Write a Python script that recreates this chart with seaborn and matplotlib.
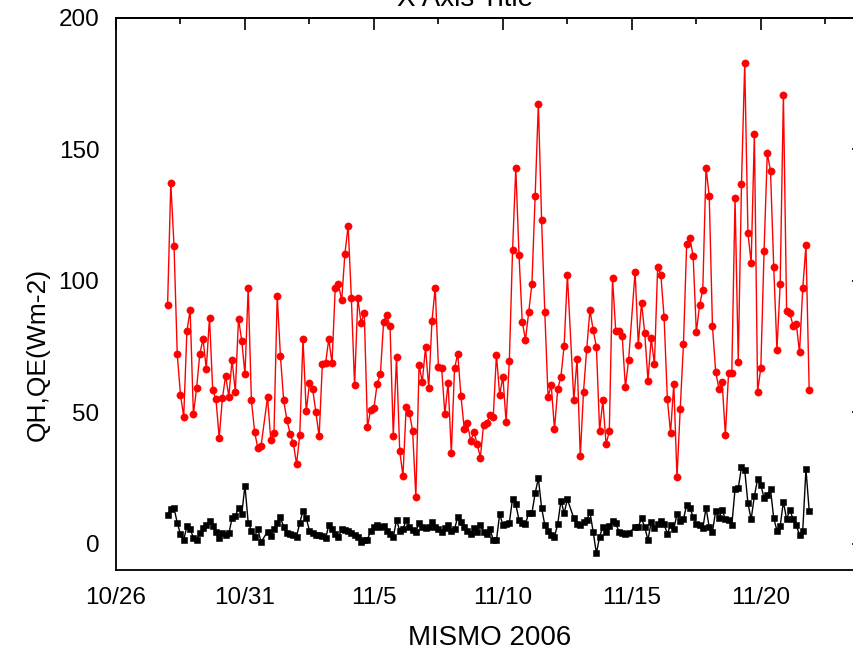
import numpy as np
import pandas as pd
import matplotlib
matplotlib.use("Agg")
import matplotlib.pyplot as plt
import matplotlib.dates as mdates
from matplotlib.ticker import FixedLocator, FuncFormatter, MultipleLocator
import seaborn as sns

# 3-hourly surface fluxes, MISMO 2006 (NaN = missing record)
start = "2006-10-28 00:00"
step = "3h"

qe = [
    90.8, 137.3, 113.2, 72.0, 56.7, 48.3, 80.9, 88.9, 49.2, 59.2,
    72.3, 77.9, 66.5, 86.0, 58.3, 55.1, 40.3, 55.3, 63.9, 56.0,
    70.0, 57.7, 85.6, 77.2, 64.4, 97.4, 54.5, 42.5, 36.3, 37.3,
    np.nan, 55.7, 39.6, 42.1, 94.4, 71.4, 54.5, 47.1, 41.9, 38.3,
    30.3, 41.3, 78.0, 50.3, 61.0, 58.8, 50.0, 40.8, 68.3, 68.6,
    77.9, 68.7, 97.3, 98.7, 92.6, 110.4, 121.0, 93.4, 60.2, 93.4,
    84.1, 87.8, 44.5, 51.0, 51.7, 60.8, 64.4, 84.4, 86.9, 82.7,
    41.0, 70.9, 35.4, 25.7, 52.0, 49.9, 42.9, 17.8, 67.9, 61.6,
    74.7, 59.2, 84.7, 97.4, 67.3, 66.8, 49.2, 61.2, 34.5, 66.7,
    72.3, 56.1, 43.8, 45.8, 39.2, 42.4, 38.1, 32.7, 45.2, 45.8,
    48.9, 48.1, 71.9, 56.5, 63.6, 46.2, 69.6, 111.8, 143.0, 109.8,
    84.4, 77.6, 88.0, 98.9, 132.2, 167.4, 123.2, 88.0, 56.0, 60.2,
    43.6, 58.8, 63.6, 75.4, 102.3, np.nan, 54.5, 70.4, 33.2, 57.8,
    74.2, 88.9, 81.3, 74.9, 43.0, 54.5, 37.9, 42.7, 101.0, 80.8,
    80.9, 79.0, 59.5, 70.0, np.nan, 103.5, 75.7, 91.7, 80.0, 62.0,
    78.2, 68.2, 105.3, 102.2, 86.1, 55.2, 42.1, 60.8, 25.2, 51.4,
    75.8, 114.1, 116.2, 109.5, 80.5, 90.7, 96.7, 143.1, 132.2, 82.7,
    65.4, 59.0, 61.5, 41.3, 65.1, 65.1, 131.6, 69.1, 136.9, 182.7,
    118.3, 106.9, 155.7, 57.9, 66.9, 111.2, 148.5, 141.9, 105.3, 73.8,
    98.7, 170.7, 88.5, 87.7, 82.9, 83.6, 72.8, 97.1, 113.5, 58.3,
]

qh = [
    11.1, 13.2, 13.5, 8.0, 3.6, 1.4, 6.7, 5.6, 2.3, 1.4,
    3.9, 6.1, 7.1, 8.5, 6.7, 4.3, 2.3, 4.2, 3.3, 3.9,
    9.7, 10.4, 13.7, 11.3, 22.1, 8.0, 5.0, 2.7, 5.5, 0.6,
    np.nan, 4.6, 2.9, 5.5, 7.8, 10.3, 6.2, 4.2, 3.6, 3.2,
    2.7, 8.0, 12.5, 9.7, 5.0, 4.2, 3.4, 3.2, 2.9, 2.0,
    7.0, 5.5, 3.7, 2.4, 5.5, 5.2, 5.0, 4.2, 3.3, 2.7,
    0.8, 1.4, 1.6, 5.0, 6.5, 7.0, 6.2, 6.7, 5.0, 3.7,
    2.4, 9.0, 5.0, 5.5, 9.0, 6.5, 5.2, 4.6, 7.8, 6.2,
    5.8, 6.2, 8.4, 6.5, 5.5, 4.6, 5.8, 7.1, 5.0, 5.5,
    10.3, 8.4, 6.5, 5.0, 3.7, 5.8, 4.6, 7.1, 4.6, 3.7,
    5.6, 1.4, 1.4, 11.3, 7.1, 7.5, 8.0, 17.1, 15.0, 9.0,
    7.8, 7.4, 11.8, 11.6, 19.2, 24.9, 13.7, 7.1, 4.8, 3.3,
    2.7, 7.4, 16.4, 11.6, 16.9, np.nan, 9.7, 7.4, 7.1, 8.3,
    9.0, 12.1, 4.5, -3.7, 2.7, 6.5, 4.6, 6.7, 8.7, 7.8,
    4.6, 3.9, 3.7, 3.9, np.nan, 6.5, 6.5, 9.7, 6.2, 1.4,
    8.3, 6.0, 7.5, 8.8, 7.5, 3.7, 7.1, 5.5, 11.3, 8.8,
    9.3, 14.8, 13.5, 10.3, 7.5, 7.1, 5.8, 13.7, 6.2, 4.6,
    12.5, 9.7, 12.9, 9.3, 9.0, 7.1, 20.7, 21.1, 29.1, 28.1,
    15.4, 9.3, 18.2, 24.5, 22.4, 17.3, 18.6, 20.7, 9.7, 5.0,
    6.7, 16.0, 9.3, 12.9, 9.3, 7.1, 3.3, 5.0, 28.4, 12.5,
]

times = pd.date_range(start, periods=len(qe), freq=step)
df = pd.DataFrame({"time": times, "QE": qe, "QH": qh})

sns.set_style("white")
plt.rcParams["font.family"] = ["Liberation Sans", "DejaVu Sans"]
plt.rcParams.update({
    "text.color": "black",
    "axes.labelcolor": "black",
    "xtick.color": "black",
    "ytick.color": "black",
    "axes.edgecolor": "black",
})

W, H = 854, 655
fig = plt.figure(figsize=(W / 100, H / 100), dpi=100)
ax = fig.add_axes([116 / W, 85 / H, 748 / W, 552 / H])

d_qe = df.dropna(subset=["QE"])
d_qh = df.dropna(subset=["QH"])

sns.lineplot(data=d_qe, x="time", y="QE", ax=ax, estimator=None, sort=False,
             color="#ff0000", linewidth=1.0, marker="o", markersize=5.2,
             markeredgecolor="#ff0000", markeredgewidth=0.4)
sns.lineplot(data=d_qh, x="time", y="QH", ax=ax, estimator=None, sort=False,
             color="black", linewidth=1.0, marker="s", markersize=4.6,
             markeredgecolor="black", markeredgewidth=0.4)

# x axis: day ticks every 5 days, minor every 2.5 days
x0 = pd.Timestamp("2006-10-26")
x1 = pd.Timestamp("2006-11-24")
ax.set_xlim(mdates.date2num(x0), mdates.date2num(x1))
major = mdates.date2num(pd.date_range(x0, x1, freq="5D").to_pydatetime())
minor = mdates.date2num(pd.date_range(x0, x1, freq="60h").to_pydatetime())
ax.xaxis.set_major_locator(FixedLocator(major))
ax.xaxis.set_minor_locator(FixedLocator(minor))


def md(v, pos):
    d = mdates.num2date(v)
    return f"{d.month}/{d.day}"


ax.xaxis.set_major_formatter(FuncFormatter(md))

ax.set_ylim(-10, 200)
ax.yaxis.set_major_locator(MultipleLocator(50))
ax.yaxis.set_minor_locator(MultipleLocator(25))

for s in ax.spines.values():
    s.set_linewidth(1.3)
    s.set_color("black")

ax.tick_params(which="major", direction="out", length=8.5, width=1.2,
               labelsize=17.5, pad=3.5, colors="black")
ax.tick_params(which="minor", direction="out", length=4.5, width=1.2)

# inward ticks on the top and right frame
top = ax.secondary_xaxis("top", functions=(lambda v: v, lambda v: v))
top.xaxis.set_major_locator(FixedLocator(major))
top.xaxis.set_minor_locator(FixedLocator(minor))
top.tick_params(which="major", direction="in", length=8.5, width=1.2, labeltop=False)
top.tick_params(which="minor", direction="in", length=4.5, width=1.2)
top.spines["top"].set_linewidth(1.3)

right = ax.secondary_yaxis("right", functions=(lambda v: v, lambda v: v))
right.yaxis.set_major_locator(MultipleLocator(50))
right.yaxis.set_minor_locator(MultipleLocator(25))
right.tick_params(which="major", direction="in", length=8.5, width=1.2, labelright=False)
right.tick_params(which="minor", direction="in", length=4.5, width=1.2)

ax.set_xlabel("MISMO 2006", fontsize=20, labelpad=12, color="black")
ax.set_ylabel("QH,QE(Wm-2)", fontsize=19, color="black")
ax.yaxis.set_label_coords(-0.088, 0.39)

fig.text(465 / W, 1 - 6 / H, "X Axis Title", ha="center", va="baseline",
         fontsize=20, color="black")

fig.savefig("out.png", dpi=100)
